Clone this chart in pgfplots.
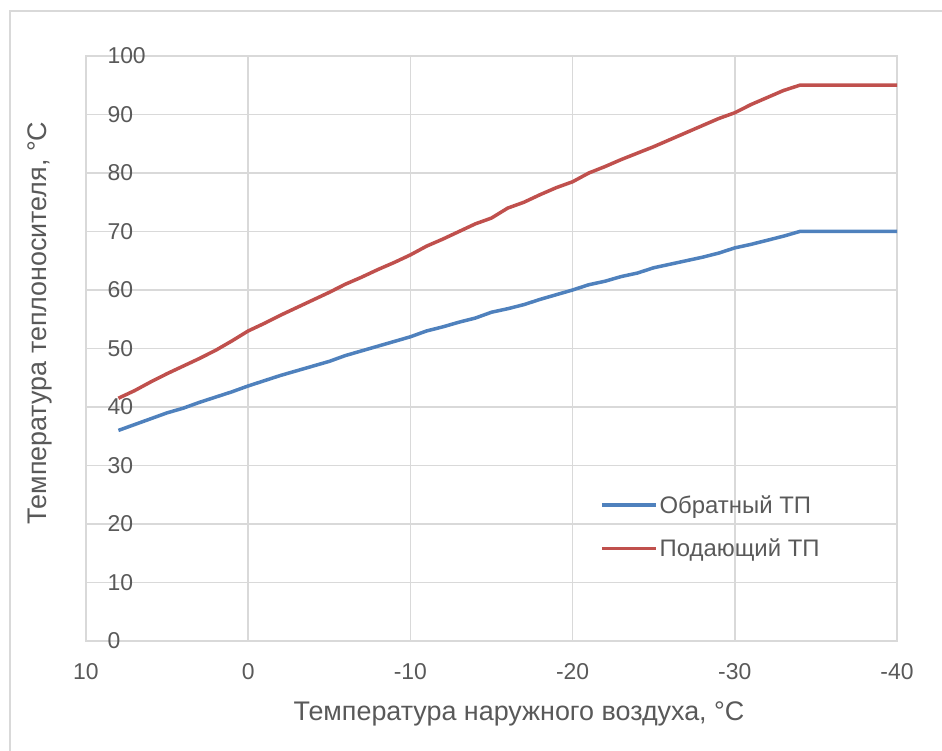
\documentclass[border=0pt]{standalone}
\usepackage{fontspec}
\setmainfont{Liberation Sans}
\usepackage{pgfplots}
\pgfplotsset{compat=1.18}
\definecolor{txtgray}{HTML}{595959}
\definecolor{gridgray}{HTML}{D9D9D9}
\definecolor{sblue}{HTML}{4F81BD}
\definecolor{sred}{HTML}{C0504D}
\begin{document}
\begin{tikzpicture}
\useasboundingbox (-86bp,-110bp) rectangle (856bp,641bp);
\draw[gridgray, line width=1.5bp] (-76bp,-200bp) rectangle (900bp,630bp);
\begin{axis}[
  at={(0,0)}, anchor=south west,
  scale only axis, width=811bp, height=585bp,
  x dir=reverse,
  xmin=-40, xmax=10, ymin=0, ymax=100,
  xtick={-40,-30,-20,-10,0,10},
  xticklabels={-40,-30,-20,-10,0,10},
  ytick={0,10,...,100},
  yticklabels={0,10,20,30,40,50,60,70,80,90,100},
  major tick length=0pt,
  grid=major,
  major grid style={gridgray, line width=1.5bp},
  axis line style={gridgray, line width=1.5bp},
  tick label style={font=\fontsize{23}{26}\selectfont, text=txtgray},
  xticklabel style={anchor=center, yshift=-31bp},
  yticklabel style={anchor=west, xshift=18bp},
  clip=false,
  legend style={at={(rel axis cs:0.63,0.256)}, anchor=north west, draw=none, fill=none,
    font=\fontsize{24}{27}\selectfont, text=txtgray, row sep=20bp},
  legend cell align=left,
  legend image code/.code={\draw[#1] (0bp,0bp) -- (54bp,0bp);},
]
\addplot[sblue, line width=3.5bp] coordinates {
(8,36.0) (7,37.0) (6,38.0) (5,39.0) (4,39.8) (3,40.8) (2,41.7) (1,42.6) (0,43.6)
(-1,44.5) (-2,45.4) (-3,46.2) (-4,47.0) (-5,47.8) (-6,48.8) (-7,49.6) (-8,50.4) (-9,51.2) (-10,52.0)
(-11,53.0) (-12,53.7) (-13,54.5) (-14,55.2) (-15,56.2) (-16,56.8) (-17,57.5) (-18,58.4) (-19,59.2) (-20,60.0)
(-21,60.9) (-22,61.5) (-23,62.3) (-24,62.9) (-25,63.8) (-26,64.4) (-27,65.0) (-28,65.6) (-29,66.3) (-30,67.2)
(-31,67.8) (-32,68.5) (-33,69.2) (-34,70.0) (-40,70.0)
};
\addlegendentry{Обратный ТП}
\addplot[sred, line width=3.5bp] coordinates {
(8,41.5) (7,42.8) (6,44.3) (5,45.7) (4,47.0) (3,48.3) (2,49.7) (1,51.3) (0,53.0)
(-1,54.3) (-2,55.7) (-3,57.0) (-4,58.3) (-5,59.6) (-6,61.0) (-7,62.2) (-8,63.5) (-9,64.7) (-10,66.0)
(-11,67.5) (-12,68.7) (-13,70.0) (-14,71.3) (-15,72.3) (-16,74.0) (-17,75.0) (-18,76.3) (-19,77.5) (-20,78.5)
(-21,80.0) (-22,81.1) (-23,82.3) (-24,83.4) (-25,84.5) (-26,85.7) (-27,86.9) (-28,88.1) (-29,89.3) (-30,90.3)
(-31,91.7) (-32,92.9) (-33,94.1) (-34,95.0) (-40,95.0)
};
\addlegendentry{Подающий ТП}
\end{axis}
\node[text=txtgray, font=\fontsize{27}{30}\selectfont] at (433bp,-73bp) {Температура наружного воздуха, °С};
\node[text=txtgray, font=\fontsize{27}{30}\selectfont, rotate=90] at (-46bp,318bp) {Температура теплоносителя, °С};
\end{tikzpicture}
\end{document}
